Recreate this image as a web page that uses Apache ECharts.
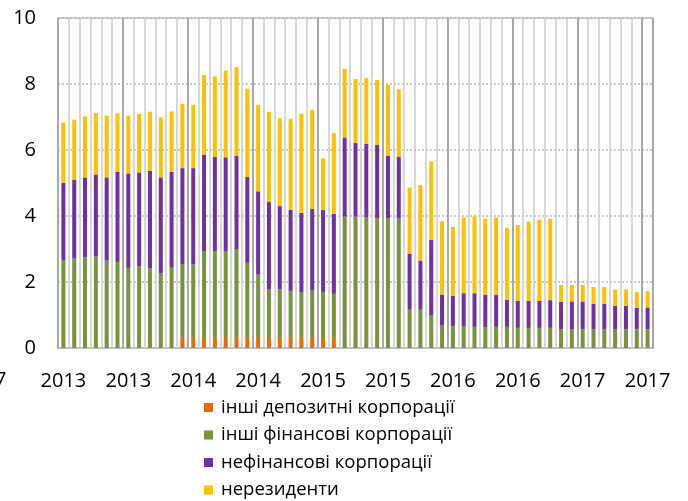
<!DOCTYPE html>
<html>
<head>
<meta charset="utf-8">
<script src="https://cdn.jsdelivr.net/npm/echarts@6/dist/echarts.min.js"></script>
<style>
  html, body { margin: 0; padding: 0; background: #fff; }
  #chart { width: 688px; height: 501px; }
</style>
</head>
<body>
<div id="chart"></div>
<script>
// months Jan 2013 .. Jul 2017
var months = [];
for (var y = 2013; y <= 2017; y++) {
  for (var m = 1; m <= 12; m++) {
    if (y === 2017 && m > 7) break;
    months.push((m < 10 ? '0' + m : '' + m) + '.' + y);
  }
}

var seriesNames = ['інші депозитні корпорації', 'інші фінансові корпорації', 'нефінансові корпорації', 'нерезиденти'];

var otherDeposit = [0,0,0,0,0,0,0,0,0,0,0,0.33,0.33,0.33,0.33,0.33,0.33,0.33,0.33,0.33,0.33,0.33,0.33,0.33,0.33,0.33,
  0,0,0,0,0,0,0,0,0,0,0,0,0,0,0,0,0,0,0,0,0,0,0,0,0,0,0,0,0];
var otherFinancial = [2.65,2.71,2.75,2.78,2.65,2.61,2.43,2.47,2.41,2.26,2.43,2.21,2.20,2.61,2.61,2.61,2.65,2.25,1.89,1.44,
  1.45,1.40,1.35,1.41,1.37,1.31,3.98,3.98,3.95,3.93,3.93,3.92,1.16,1.16,0.98,0.68,0.66,0.66,0.64,0.62,
  0.64,0.64,0.61,0.61,0.61,0.61,0.57,0.57,0.57,0.57,0.57,0.57,0.57,0.57,0.57];
var nonFinancial = [2.36,2.38,2.42,2.48,2.52,2.73,2.86,2.85,2.96,2.91,2.91,2.91,2.92,2.92,2.85,2.84,2.84,2.60,2.53,2.66,
  2.52,2.46,2.42,2.48,2.48,2.43,2.40,2.24,2.24,2.23,1.90,1.88,1.70,1.49,2.30,0.94,0.93,1.00,1.02,1.00,
  0.98,0.82,0.82,0.82,0.82,0.84,0.83,0.84,0.84,0.77,0.77,0.71,0.71,0.65,0.66];
var nonResidents = [1.82,1.83,1.85,1.86,1.87,1.77,1.75,1.77,1.79,1.82,1.83,1.95,1.92,2.41,2.44,2.63,2.69,2.68,2.62,2.72,
  2.66,2.76,3.00,3.00,1.57,2.44,2.08,1.93,1.99,1.96,2.15,2.04,2.00,2.29,2.37,2.22,2.08,2.29,2.33,2.30,
  2.33,2.18,2.30,2.40,2.46,2.47,0.51,0.50,0.50,0.51,0.51,0.49,0.49,0.47,0.49];

var yTicks = [0, 2, 4, 6, 8, 10];
var colors = ['#e46c0a', '#77933c', '#7030a0', '#ffc000'];
var values = [otherDeposit, otherFinancial, nonFinancial, nonResidents];

var font = '"Open Sans", "Liberation Sans", sans-serif';
var chart = echarts.init(document.getElementById('chart'));

var series = seriesNames.map(function (name, k) {
  return {
    name: name,
    type: 'bar',
    stack: 'total',
    barWidth: 4,
    itemStyle: { color: colors[k] },
    data: values[k]
  };
});

chart.setOption({
  animation: false,
  grid: { left: 58, right: 35, top: 18, bottom: 153, show: true, borderColor: '#c0c0c0', borderWidth: 1.5 },
  legend: {
    orient: 'vertical',
    left: 204,
    top: 398,
    height: 110,
    padding: 0,
    itemWidth: 9,
    itemHeight: 9,
    itemGap: 8.5,
    icon: 'rect',
    textStyle: { fontFamily: font, fontSize: 18.5, lineHeight: 18, color: '#000', padding: [0, 0, 0, 3] },
    data: seriesNames
  },
  graphic: [{
    type: 'text',
    left: -5,
    top: 370,
    style: { text: '7', font: '20px ' + font, fill: '#000' }
  }],
  xAxis: [{
    type: 'category',
    data: months,
    axisLine: { lineStyle: { color: '#bfbfbf', width: 2 } },
    // long inside ticks act as the light month-boundary grid lines
    axisTick: { show: true, interval: 0, inside: true, length: 330, lineStyle: { color: '#cccccc', width: 1.5 } },
    axisLabel: {
      interval: 5,
      margin: 23,
      color: '#000',
      fontFamily: font,
      fontSize: 20,
      formatter: function (v) { return v.split('.')[1]; }
    },
    splitLine: { show: false }
  }, {
    type: 'category',
    data: months,
    position: 'bottom',
    z: 1,
    axisLine: { show: false },
    axisTick: { show: false },
    axisLabel: { show: false },
    splitLine: { show: true, interval: 5, lineStyle: { color: '#a8a8a8', width: 2 } }
  }],
  yAxis: {
    type: 'value',
    min: yTicks[0],
    max: yTicks[yTicks.length - 1],
    interval: 2,
    axisLine: { show: false },
    axisTick: { show: false },
    axisLabel: { color: '#000', fontFamily: font, fontSize: 20, margin: 22 },
    splitLine: { lineStyle: { color: '#b8b8b8', type: [2, 2], width: 1.5 } }
  },
  series: series
});
</script>
</body>
</html>
